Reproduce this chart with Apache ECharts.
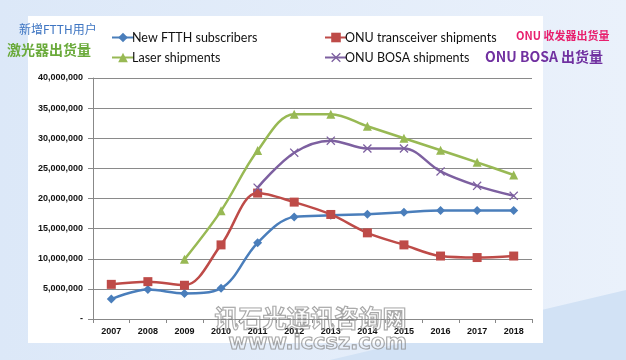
<!DOCTYPE html>
<html><head><meta charset="utf-8">
<script src="https://cdn.jsdelivr.net/npm/echarts@6/dist/echarts.min.js"></script>
<style>html,body{margin:0;padding:0;}#c{width:626px;height:360px;}</style>
</head><body><div id="c"></div>
<script>
const categories = ['2007','2008','2009','2010','2011','2012','2013','2014','2015','2016','2017','2018'];
const seriesNames = ['New FTTH subscribers','ONU transceiver shipments','Laser shipments','ONU BOSA shipments'];
const newFTTH = [3300000,4900000,4250000,5100000,12650000,16950000,17200000,17400000,17700000,18000000,18000000,18000000];
const onuTransceiver = [5750000,6200000,5600000,12300000,20900000,19400000,17350000,14300000,12300000,10450000,10200000,10450000];
const laser = [null,null,9900000,17950000,27950000,34000000,34000000,32000000,30000000,28000000,26000000,23900000];
const onuBosa = [null,null,null,null,21800000,27600000,29600000,28300000,28300000,24500000,22100000,20450000];
const yTicks = {min:0, max:40000000, interval:5000000};

const chart = echarts.init(document.getElementById('c'), null, {renderer:'canvas'});
const xSym = 'path://M0,1L1,0L5,4L9,0L10,1L6,5L10,9L9,10L5,6L1,10L0,9L4,5Z';
function fmt(v){ if(v===0) return '-'; return v.toString().replace(/\B(?=(\d{3})+(?!\d))/g, ','); }
const lw = 2.5;
chart.setOption({
  animation:false,
  backgroundColor:{type:'linear',x:0,y:0,x2:1,y2:0,colorStops:[{offset:0,color:'#dce8f8'},{offset:1,color:'#eaf1fb'}]},
  graphic:[
    {type:'polygon',z:-2,shape:{points:[[330,360],[626,290],[626,360]]},style:{fill:'#d2e2f5'}},
    {type:'rect',z:-1,shape:{x:28,y:16,width:515,height:327},style:{fill:'#ffffff'}},
    {type:'text',left:19,top:23,style:{text:'新增FTTH用户',fill:'#3e75c2',font:'12px "Noto Sans CJK SC"'}},
    {type:'text',left:7,top:43,style:{text:'激光器出货量',fill:'#6aaa3a',font:'bold 14px "Noto Sans CJK SC"'}},
    {type:'text',left:516,top:30,style:{text:'ONU 收发器出货量',fill:'#e8206e',font:'bold 11px "Noto Sans CJK SC"'}},
    {type:'text',left:485,top:50,style:{text:'ONU BOSA 出货量',fill:'#7030a0',font:'bold 14px "Noto Sans CJK SC"'}},
    {type:'text',left:214,top:305,z:100,style:{text:'讯石光通讯咨询网',fill:'rgba(255,255,255,0.2)',stroke:'rgba(120,120,120,0.7)',lineWidth:1.2,font:'bold 24px "Noto Sans CJK SC"'}},
    {type:'text',left:228,top:332,z:100,style:{text:'www.iccsz.com',fill:'rgba(255,255,255,0.2)',stroke:'rgba(120,120,120,0.7)',lineWidth:1.2,font:'bold 21px "DejaVu Sans"'}}
  ],
  legend:[
    {orient:'vertical',left:106,top:26,itemGap:7,itemWidth:22,itemHeight:12,data:[seriesNames[0],seriesNames[2]],
     textStyle:{fontFamily:'Lato',fontSize:12.5,color:'#111',padding:[0,0,0,-7]}},
    {orient:'vertical',left:319,top:26,itemGap:7,itemWidth:22,itemHeight:12,data:[seriesNames[1],seriesNames[3]],
     textStyle:{fontFamily:'Lato',fontSize:12.5,color:'#111',padding:[0,0,0,-7]}}
  ],
  grid:{left:93,right:94,top:78,bottom:41,containLabel:false},
  xAxis:{type:'category',data:categories,boundaryGap:true,
    axisLine:{lineStyle:{color:'#888',width:1}},
    axisTick:{show:true,alignWithLabel:false,length:4,lineStyle:{color:'#888'}},
    axisLabel:{color:'#111',fontSize:9,fontWeight:'bold',fontFamily:'Liberation Sans',margin:8}},
  yAxis:{type:'value',min:yTicks.min,max:yTicks.max,interval:yTicks.interval,
    axisLine:{show:true,lineStyle:{color:'#888',width:1}},
    axisTick:{show:true,length:5,lineStyle:{color:'#888'}},
    splitLine:{lineStyle:{color:'#8a8a8a',width:1}},
    axisLabel:{formatter:fmt,color:'#111',fontSize:9,fontWeight:'bold',fontFamily:'Liberation Sans',margin:10}},
  series:[
    {name:seriesNames[0],type:'line',data:newFTTH,smooth:0.35,symbol:'diamond',symbolSize:9,
     lineStyle:{color:'#4a7ebb',width:lw},itemStyle:{color:'#4a7ebb'}},
    {name:seriesNames[1],type:'line',data:onuTransceiver,smooth:0.35,symbol:'rect',symbolSize:9,
     lineStyle:{color:'#be4b48',width:lw},itemStyle:{color:'#be4b48'}},
    {name:seriesNames[2],type:'line',data:laser,smooth:0.35,symbol:'triangle',symbolSize:9,
     lineStyle:{color:'#98b954',width:lw},itemStyle:{color:'#98b954'}},
    {name:seriesNames[3],type:'line',data:onuBosa,smooth:0.35,symbol:xSym,symbolSize:9,
     lineStyle:{color:'#7d60a0',width:lw},itemStyle:{color:'#7d60a0'}}
  ]
});
</script></body></html>
